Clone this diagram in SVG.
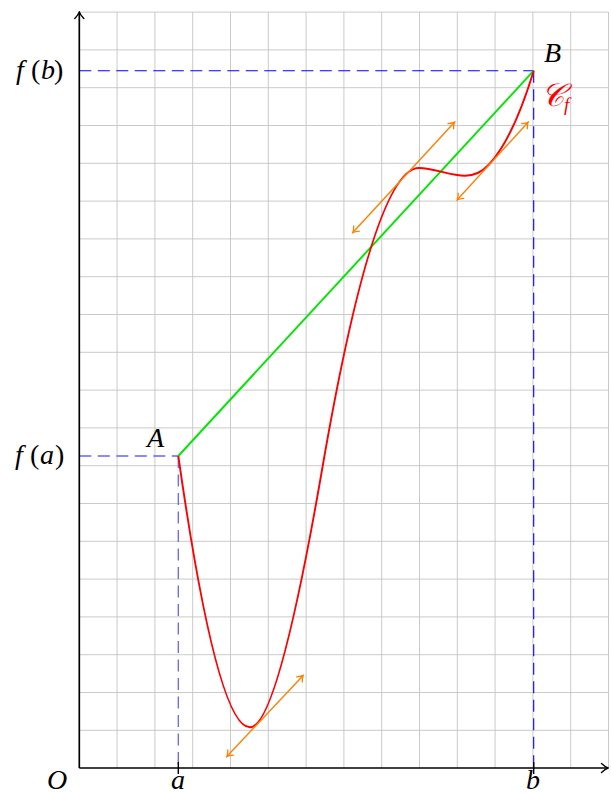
<svg xmlns="http://www.w3.org/2000/svg" width="611" height="796" viewBox="0 0 611 796">
<style>
.grid{stroke:#c4c4c4;stroke-width:0.9;fill:none}
.axis{stroke:#000;stroke-width:1.7;fill:none}
.dl{stroke:#6464ff;stroke-width:1.3;stroke-dasharray:12 6.5;fill:none}
.db{stroke:#0000ff;stroke-width:1.1;stroke-dasharray:12 6.5;fill:none}
.cf{stroke:#ff0000;stroke-width:1.9;fill:none}
.ch{stroke:#00e600;stroke-width:1.9;fill:none}
.tg{stroke:#ff8000;stroke-width:1.4;fill:none;marker-start:url(#oa);marker-end:url(#oa)}
.lbl{font-family:"Liberation Serif","DejaVu Serif",serif;font-style:italic;font-size:28px;fill:#000}
.up{font-style:normal}
</style>
<defs>
<marker id="oa" viewBox="-6 -5 8 10" markerWidth="8" markerHeight="10" refX="0" refY="0" orient="auto-start-reverse" markerUnits="userSpaceOnUse">
<path d="M-4.8,-3.8 Q-1.3,-0.7 0.8,0 Q-1.3,0.7 -4.8,3.8" stroke="#ff8000" stroke-width="1.3" fill="none" stroke-linecap="round"/>
</marker>
<marker id="ka" viewBox="-7 -6 9 12" markerWidth="9" markerHeight="12" refX="0" refY="0" orient="auto" markerUnits="userSpaceOnUse">
<path d="M-5.5,-4.5 Q-1.6,-0.9 1,0 Q-1.6,0.9 -5.5,4.5" stroke="#000" stroke-width="1.4" fill="none" stroke-linecap="round"/>
</marker>
</defs>
<g id="grid" class="grid">
<path d="M117.1,12V768M154.9,12V768M192.7,12V768M230.5,12V768M268.3,12V768M306.1,12V768M343.9,12V768M381.7,12V768M419.5,12V768M457.3,12V768M495.1,12V768M532.9,12V768M570.7,12V768M608.5,12V768"/>
<path d="M79.3,12.1H608.5M79.3,49.9H608.5M79.3,87.7H608.5M79.3,125.5H608.5M79.3,163.3H608.5M79.3,201.1H608.5M79.3,238.9H608.5M79.3,276.7H608.5M79.3,314.5H608.5M79.3,352.3H608.5M79.3,390.1H608.5M79.3,427.9H608.5M79.3,465.7H608.5M79.3,503.5H608.5M79.3,541.3H608.5M79.3,579.1H608.5M79.3,616.9H608.5M79.3,654.7H608.5M79.3,692.5H608.5M79.3,730.3H608.5"/>
</g>
<g id="guides">
<path class="dl" d="M79.3,456H178.3"/>
<path class="dl" d="M178.3,456V768"/>
<path class="db" d="M79.3,70.7H533.7"/>
<path class="db" d="M533.7,70.7V768"/>
</g>
<g id="axes">
<path class="axis" d="M79.3,768V13" marker-end="url(#ka)"/>
<path class="axis" d="M79.3,768H607" marker-end="url(#ka)"/>
<path d="M178.3,762V774M533.7,762V774" stroke="#000" stroke-width="1.4"/>
</g>
<g id="chord">
<path class="ch" d="M178.3,456L533.7,70.7"/>
</g>
<g id="curve">
<path class="cf" d="M178.3,456C204.1,636.9 228,727.3 250,727.3C268.4,727.3 292.4,641.5 322,470C356.7,268.7 389,168 419,168C434,168 450,175.7 465,175.7C474.1,175.7 482.1,172 489,164.5C505.1,147.1 520,115.8 533.7,70.7"/>
</g>
<g id="tangents">
<path class="tg" d="M227.3,756L302.7,676"/>
<path class="tg" d="M353.3,232L454,122.7"/>
<path class="tg" d="M457.7,199.3L527.7,122.7"/>
</g>
<g id="labels">
<text class="lbl" y="79"><tspan x="16">f</tspan><tspan class="up" x="31">(</tspan><tspan x="41">b</tspan><tspan class="up" x="54">)</tspan></text>
<text class="lbl" y="464"><tspan x="15">f</tspan><tspan class="up" x="30">(</tspan><tspan x="40">a</tspan><tspan class="up" x="55">)</tspan></text>
<text class="lbl" x="147" y="447">A</text>
<text class="lbl" x="544" y="62">B</text>
<text class="lbl" x="47" y="789">O</text>
<text class="lbl" x="171" y="789">a</text>
<text class="lbl" x="526" y="789">b</text>
<text class="lbl" x="541" y="106" style="fill:#ff0000;font-size:32px">𝒞<tspan style="font-size:19px" dy="5">f</tspan></text>
</g>
</svg>
